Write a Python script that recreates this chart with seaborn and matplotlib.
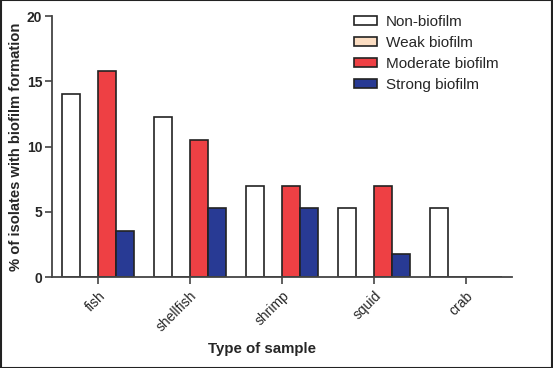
import matplotlib
matplotlib.use("Agg")
import matplotlib.pyplot as plt
import seaborn as sns
import pandas as pd

categories = ["fish", "shellfish", "shrimp", "squid", "crab"]
series = ["Non-biofilm", "Weak biofilm", "Moderate biofilm", "Strong biofilm"]
non_biofilm = [14.04, 12.28, 7.02, 5.26, 5.26]
weak_biofilm = [0, 0, 0, 0, 0]
moderate_biofilm = [15.79, 10.53, 7.02, 7.02, 0]
strong_biofilm = [3.51, 5.26, 5.26, 1.75, 0]
colors = ["#FFFFFF", "#FBDDC2", "#EE4044", "#283A94"]

rows = []
for s, vals in zip(series, [non_biofilm, weak_biofilm, moderate_biofilm, strong_biofilm]):
    for c, v in zip(categories, vals):
        rows.append({"cat": c, "series": s, "val": v})
df = pd.DataFrame(rows)

sns.set_theme(style="white")
plt.rcParams['font.family'] = ['Liberation Sans', 'DejaVu Sans']

fig = plt.figure(figsize=(5.53, 3.68), dpi=100)
ax = fig.add_axes([0.094, 0.247, 0.832, 0.709])
sns.barplot(data=df, x="cat", y="val", hue="series", hue_order=series,
            palette=colors, order=categories, width=0.78, ax=ax,
            edgecolor="#222222", linewidth=1.2, saturation=1, legend=True)
ax.set_xlim(-0.5, 4.5)
ax.set_ylim(0, 20)
ax.set_yticks([0, 5, 10, 15, 20])
for sp in ["top", "right"]:
    ax.spines[sp].set_visible(False)
for sp in ["left", "bottom"]:
    ax.spines[sp].set_color("#444444")
    ax.spines[sp].set_linewidth(1.3)
ax.tick_params(axis="both", which="both", direction="out", length=5, width=1.2,
               color="#444444", bottom=True, left=True)
ax.tick_params(axis="y", labelsize=10, pad=2)
for lab in ax.get_yticklabels():
    lab.set_fontweight("bold")
plt.setp(ax.get_xticklabels(), rotation=45, ha="right", rotation_mode="anchor", fontsize=10)
ax.set_xlabel("Type of sample", fontsize=10.8, fontweight="bold")
ax.xaxis.set_label_coords(0.457, -0.25)
ax.set_ylabel("% of isolates with biofilm formation", fontsize=10.6, fontweight="bold")
ax.yaxis.set_label_coords(-0.062, 0.5)

leg = ax.legend(loc="upper left", bbox_to_anchor=(354 / 553, 1 - 15 / 368),
                bbox_transform=fig.transFigure, frameon=False, fontsize=11,
                borderpad=0, borderaxespad=0,
                handlelength=1.5, handleheight=0.55, labelspacing=0.45, handletextpad=0.6)

fig.patches.append(plt.Rectangle((0.001, 0.001), 0.998, 0.998, transform=fig.transFigure,
                                 fill=False, edgecolor="#222222", linewidth=1.5))
fig.savefig("out.png", dpi=100)
